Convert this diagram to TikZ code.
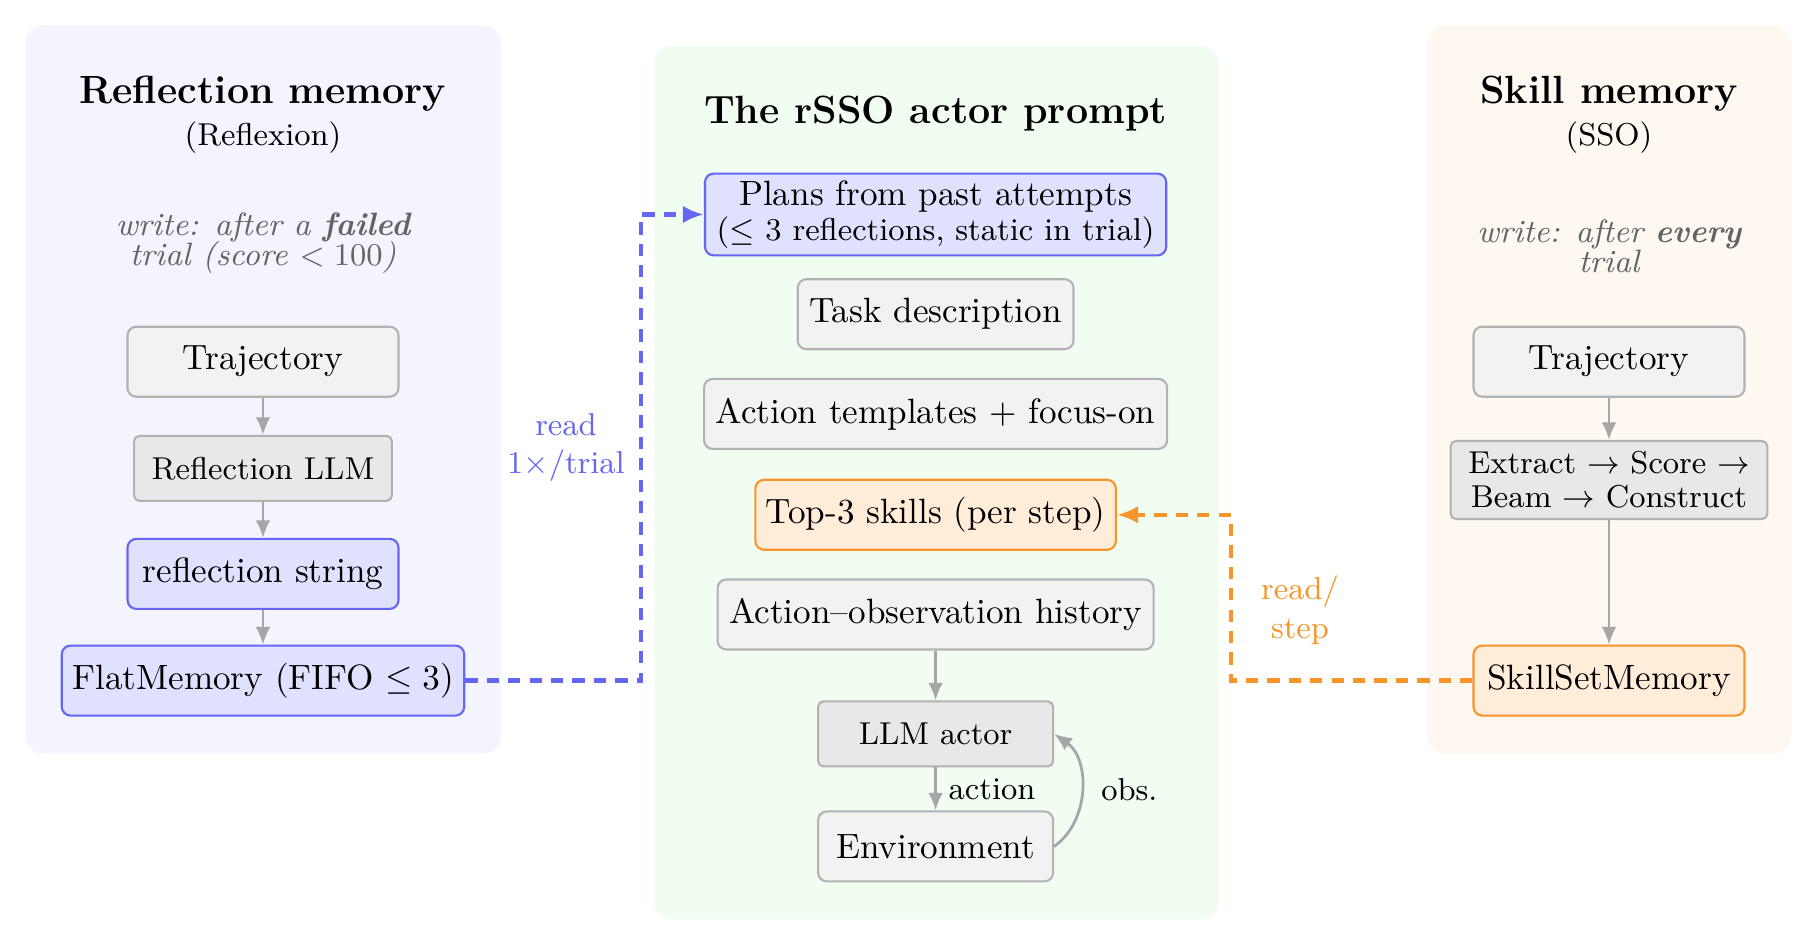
\documentclass[tikz,border=0pt]{standalone}
\usepackage{amsmath,amssymb}
\usepackage{tikz}
\usetikzlibrary{arrows.meta,positioning,calc}
\usepackage{xcolor}
\definecolor{cBlue}{RGB}{102,102,245}
\definecolor{cBlueBg}{RGB}{224,224,255}
\definecolor{cOrange}{RGB}{247,148,42}
\definecolor{cOrangeBg}{RGB}{255,236,217}
\definecolor{cLeftBg}{RGB}{244,244,255}
\definecolor{cMidBg}{RGB}{240,253,240}
\definecolor{cRightBg}{RGB}{254,248,241}
\definecolor{cBorder}{RGB}{178,178,178}
\definecolor{cBoxBg}{RGB}{242,242,242}
\definecolor{cBoxDark}{RGB}{232,232,232}
\definecolor{cArrow}{RGB}{166,166,166}
\definecolor{cNote}{RGB}{100,100,100}
\tikzset{
	panel/.style={rounded corners=5pt},
	gbox/.style={draw=cBorder, line width=0.6pt, rounded corners=2.5pt,
		fill=cBoxBg, minimum height=0.7cm, align=center, font=\normalsize},
	dbox/.style={draw=cBorder, line width=0.6pt, rounded corners=1.5pt,
		fill=cBoxDark, minimum height=0.65cm, inner xsep=5pt, align=center,
		font=\small},
	bbox/.style={gbox, draw=cBlue, fill=cBlueBg},
	obox/.style={gbox, draw=cOrange, fill=cOrangeBg},
	sidetitle/.style={font=\fontsize{11.2}{13}\selectfont\bfseries},
	subtitle/.style={font=\small},
	note/.style={font=\fontsize{9.2}{11}\selectfont\itshape, text=cNote, align=center},
	garr/.style={-{Latex[length=5pt,width=4.2pt]}, line width=0.8pt,
		draw=cArrow},
	bdash/.style={-{Latex[length=6pt,width=5pt]}, line width=1.2pt,
		draw=cBlue, dash pattern=on 3.5pt off 2.6pt},
	odash/.style={-{Latex[length=6pt,width=5pt]}, line width=1.2pt,
		draw=cOrange, dash pattern=on 3.5pt off 2.6pt},
}
\begin{document}
\begin{tikzpicture}
	\useasboundingbox (0,0) rectangle (18.18,9.46);
	% panels
	\fill[panel, cLeftBg] (0.255,1.924) rectangle (5.01,9.205);
	\fill[panel, cMidBg] (6.54,0.266) rectangle (12.185,9.0);
	\fill[panel, cRightBg] (14.27,1.924) rectangle (17.91,9.205);
	
	% reflection memory
	\node[sidetitle] (ltitle) at (2.63,8.52) {Reflection memory};
	\node[subtitle] (lsub) at (2.63,8.08) {(Reflexion)};
	\node[note] (lnote) at (2.63,7.03) {write: after a \textbf{failed}\\[-2.4pt]trial (score $<100$)};
	\node[gbox, minimum width=2.71cm] (ltraj) at (2.63,5.843) {Trajectory};
	\node[dbox, minimum width=2.52cm] (lrefl) at (2.63,4.776) {Reflection LLM};
	\node[bbox, minimum width=2.71cm] (lstr) at (2.63,3.721) {reflection string};
	\node[bbox, inner xsep=3pt] (lflat) at (2.63,2.654) {FlatMemory (FIFO $\leq 3$)};
	\draw[garr] (ltraj) -- (lrefl);
	\draw[garr] (lrefl) -- (lstr);
	\draw[garr] (lstr) -- (lflat);
	
	% actor prompt
	\node[sidetitle] (mtitle) at (9.356,8.32) {The rSSO actor prompt};
	\node[bbox, inner ysep=2pt] (plans) at (9.356,7.315)
		{Plans from past attempts\\[-2pt]{\small($\leq$ 3 reflections, static in trial)}};
	\node[gbox] (task) at (9.356,6.318) {Task description};
	\node[gbox] (tmpl) at (9.356,5.321) {Action templates + focus-on};
	\node[obox, inner xsep=3pt] (skills) at (9.356,4.312) {Top-3 skills (per step)};
	\node[gbox] (hist) at (9.356,3.315) {Action--observation history};
	\node[dbox, minimum width=2.35cm] (actor) at (9.356,2.121) {LLM actor};
	\node[gbox, minimum width=2.35cm] (env) at (9.356,0.996) {Environment};
	\draw[garr] (hist) -- (actor);
	\draw[garr] (actor) -- node[right, font=\small, text=black] {action} (env);
	\draw[garr] (env.east) to[bend right=55] node[right, font=\small, text=black, xshift=2pt] {obs.} (actor.east);
	
	% skill memory
	\node[sidetitle] (rtitle) at (16.09,8.52) {Skill memory};
	\node[subtitle] (rsub) at (16.09,8.08) {(SSO)};
	\node[note] (rnote) at (16.09,7.0) {write: after \textbf{every}\\[-2.4pt]trial};
	\node[gbox, minimum width=2.71cm] (rtraj) at (16.09,5.843) {Trajectory};
	\node[dbox, minimum height=0.78cm, inner ysep=2pt] (rext) at (16.09,4.66)
		{Extract $\rightarrow$ Score $\rightarrow$\\[-1.4pt]Beam $\rightarrow$ Construct};
	\node[obox, minimum width=2.71cm] (rmem) at (16.09,2.654) {SkillSetMemory};
	\draw[garr] (rtraj) -- (rext);
	\draw[garr] (rext) -- (rmem);
	
	% memory reads
	\coordinate (bturn) at (6.41,0);
	\coordinate (oturn) at (12.31,0);
	\draw[bdash] (lflat.east) -| (bturn |- plans.west) -- (plans.west);
	\draw[odash] (rmem.west) -| (oturn |- skills.east) -- (skills.east);
	\node[font=\small, text=cBlue, align=center] (bread) at (5.66,4.985) {read\\$1\times$/trial};
	\node[font=\small, text=cOrange, align=center] (oread) at (13.0,3.36) {read/\\step};
\end{tikzpicture}
\end{document}
